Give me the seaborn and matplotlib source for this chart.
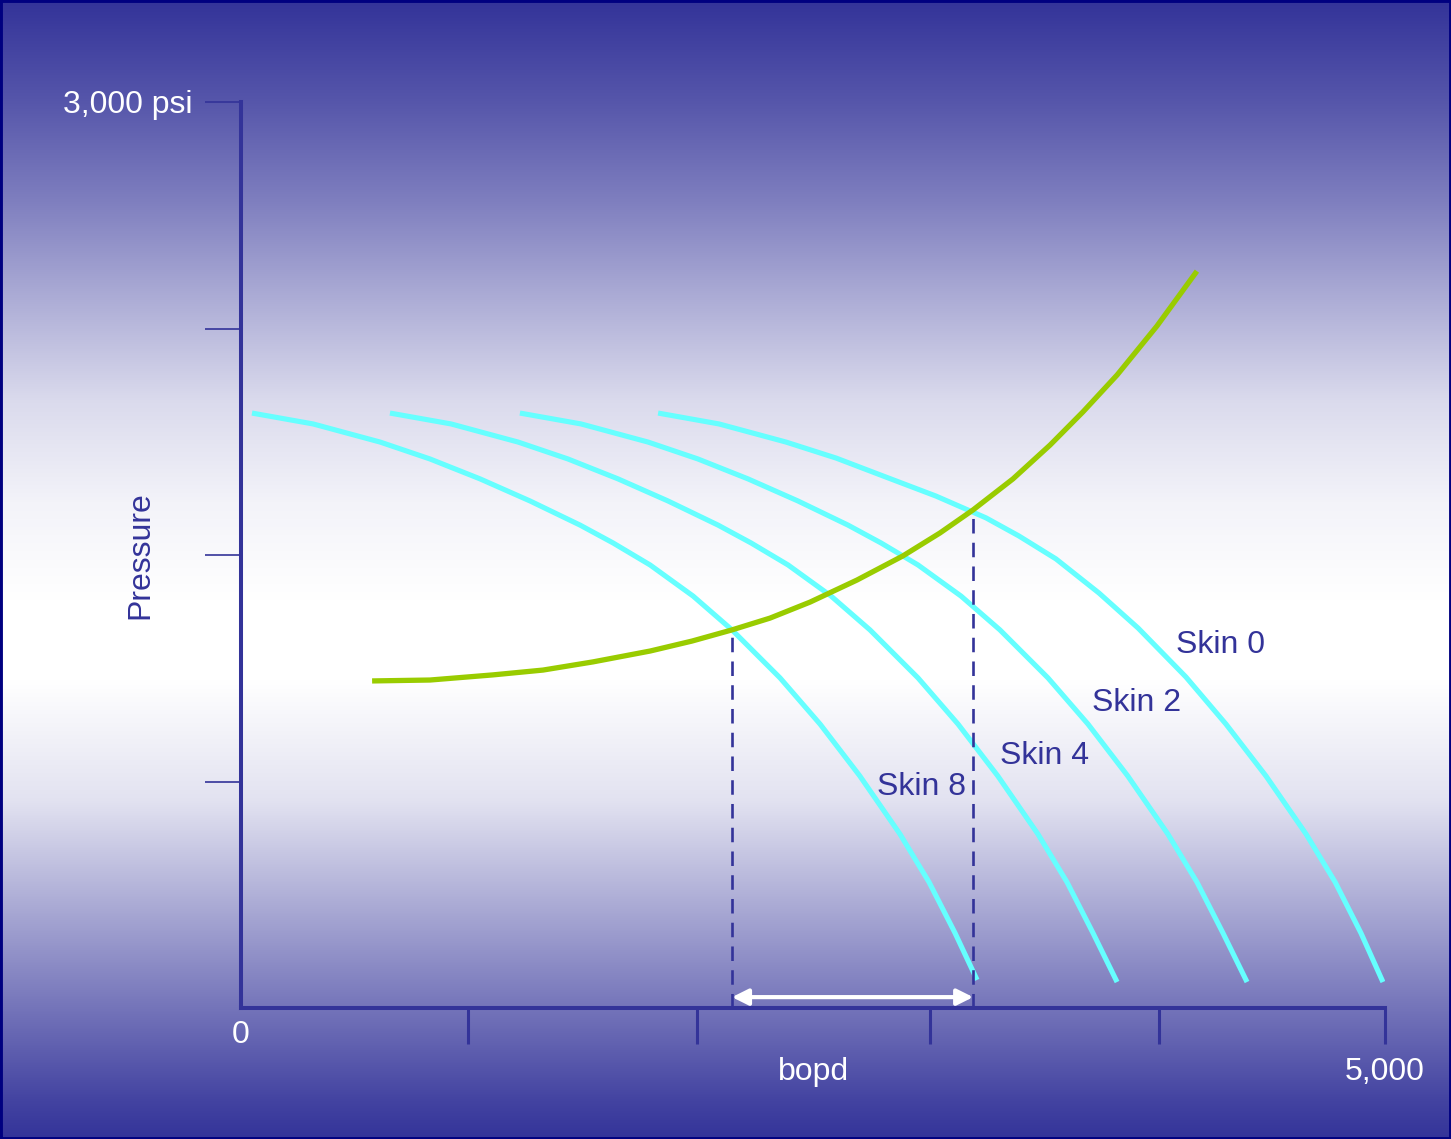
import numpy as np
import pandas as pd
import matplotlib
matplotlib.use("Agg")
import matplotlib.pyplot as plt
from matplotlib.patches import Rectangle
import seaborn as sns

# ---- data -------------------------------------------------------------
# inflow performance curves (bopd vs flowing pressure, psi)
skin0_rate = [1823, 2089, 2382, 2601, 2819, 3038, 3256, 3400, 3562, 3750,
              3921, 4130, 4305, 4480, 4655, 4782, 4895, 4991]
skin0_psi = [1970, 1934, 1874, 1821, 1758, 1695, 1623, 1563, 1487, 1374,
             1258, 1096, 940, 768, 576, 417, 248, 86]

skin2_rate = [1219, 1486, 1779, 1997, 2216, 2434, 2653, 2797, 2959, 3147,
              3317, 3527, 3702, 3876, 4051, 4178, 4292, 4397]
skin2_psi = [1970, 1934, 1874, 1818, 1752, 1679, 1599, 1540, 1467, 1364,
             1252, 1093, 940, 768, 576, 417, 248, 86]

skin4_rate = [651, 918, 1211, 1429, 1648, 1866, 2085, 2229, 2391, 2579,
              2749, 2959, 3134, 3308, 3483, 3610, 3724, 3829]
skin4_psi = [1970, 1934, 1874, 1818, 1752, 1679, 1599, 1540, 1467, 1364,
             1252, 1093, 940, 768, 576, 417, 248, 86]

skin8_rate = [48, 315, 608, 826, 1045, 1263, 1482, 1626, 1788, 1976,
              2146, 2356, 2531, 2705, 2880, 3007, 3121, 3217]
skin8_psi = [1970, 1934, 1874, 1818, 1752, 1679, 1599, 1540, 1467, 1364,
             1252, 1093, 940, 768, 576, 417, 248, 93]

# tubing (outflow) curve
tubing_rate = [573, 826, 1101, 1320, 1538, 1788, 1971, 2146, 2312, 2487,
               2692, 2893, 3055, 3199, 3374, 3536, 3680, 3829, 4003, 4178]
tubing_psi = [1083, 1086, 1103, 1119, 1146, 1182, 1215, 1252, 1291, 1344,
              1417, 1497, 1573, 1649, 1752, 1864, 1974, 2096, 2258, 2440]

# operating points (Skin 8 and Skin 0 with the tubing curve)
op_rate = [2146, 3200]
op_psi = [1252, 1646]

skin_labels = ["Skin 0", "Skin 2", "Skin 4", "Skin 8"]
label_rate = [4279, 3916, 3510, 2976]
label_psi = [1202, 1010, 834, 732]

x_ticks = [992, 1993, 3011, 4012, 5000]
y_ticks = [750, 1500, 2250, 3000]

# ---- styling ----------------------------------------------------------
NAVY = "#333399"
CYAN = "#66FFFF"
GREEN = "#99CC00"

plt.rcParams["font.family"] = ["Liberation Sans", "DejaVu Sans"]

W, H = 1451, 1139
fig = plt.figure(figsize=(W / 100, H / 100), dpi=100)

# vertical background gradient: blue at top/bottom, white band in the middle
top = np.array([51, 51, 153]) / 255.0
white = np.ones(3)
rows = np.arange(H)
stop_y = [0, 100, 200, 300, 400, 500, 600, 680, 800, 900, 1000, 1100, H]
stop_f = [0.0, 0.17, 0.37, 0.60, 0.82, 0.94, 1.0, 1.0, 0.86, 0.60, 0.34, 0.08, 0.0]
frac = np.interp(rows, stop_y, stop_f)
grad = top[None, :] * (1 - frac[:, None]) + white[None, :] * frac[:, None]
grad = np.repeat(grad[:, None, :], 2, axis=1)

bg = fig.add_axes([0, 0, 1, 1], zorder=0)
bg.imshow(grad, aspect="auto", extent=[0, 1, 0, 1], origin="upper",
          interpolation="bilinear")
bg.axis("off")
bg.add_patch(Rectangle((0, 0), 1, 1, transform=bg.transAxes, fill=False,
                       edgecolor="#000080", linewidth=3.5, clip_on=False))

# main axes placed so that 0..5000 bopd and 0..3000 psi fill the plot frame
x0, x1 = 241 / W, 1385 / W
y0, y1 = 1 - 1008 / H, 1 - 102 / H
ax = fig.add_axes([x0, y0, x1 - x0, y1 - y0], zorder=1)
ax.patch.set_alpha(0)

# ---- curves -----------------------------------------------------------
frames = []
for name, r, p in zip(skin_labels,
                      [skin0_rate, skin2_rate, skin4_rate, skin8_rate],
                      [skin0_psi, skin2_psi, skin4_psi, skin8_psi]):
    frames.append(pd.DataFrame({"rate": r, "psi": p, "curve": name}))
ipr = pd.concat(frames, ignore_index=True)

sns.lineplot(data=ipr, x="rate", y="psi", hue="curve", units="curve",
             estimator=None, sort=False, palette={k: CYAN for k in skin_labels},
             legend=False, linewidth=3.7, ax=ax, solid_capstyle="butt",
             solid_joinstyle="round")

tub = pd.DataFrame({"rate": tubing_rate, "psi": tubing_psi})
sns.lineplot(data=tub, x="rate", y="psi", estimator=None, sort=False,
             color=GREEN, linewidth=3.8, ax=ax, solid_capstyle="butt",
             solid_joinstyle="round")

# dashed drop lines from the operating points
for r, p in zip(op_rate, op_psi):
    ax.plot([r, r], [0, p], color=NAVY, linewidth=1.9, dashes=(5.5, 3.5), zorder=3)

# production gain arrow
ax.annotate("", xy=(op_rate[1], 36), xytext=(op_rate[0], 36),
            arrowprops=dict(arrowstyle="<|-|>", color="white", lw=3.0,
                            mutation_scale=24, shrinkA=0, shrinkB=0),
            zorder=4)

# ---- axes -------------------------------------------------------------
ax.set_xlim(0, 5000)
ax.set_ylim(0, 3000)
for side in ("top", "right"):
    ax.spines[side].set_visible(False)
for side in ("left", "bottom"):
    ax.spines[side].set_color(NAVY)
    ax.spines[side].set_linewidth(2.9)
ax.set_xticks(x_ticks)
ax.set_yticks(y_ticks)
ax.tick_params(axis="x", direction="out", length=26, width=2.2, color=NAVY,
               labelbottom=False)
ax.tick_params(axis="y", direction="out", length=26, width=1.2, color=NAVY,
               labelleft=False)
ax.set_xlabel("")
ax.set_ylabel("")

# ---- text -------------------------------------------------------------
fs = 23
ax.text(-214, 2990, "3,000 psi", color="white", fontsize=fs, ha="right", va="center")
ax.text(-441, 1500, "Pressure", color=NAVY, fontsize=fs, ha="center", va="center",
        rotation=90)
ax.text(0, -89, "0", color="white", fontsize=fs, ha="center", va="center")
ax.text(2504, -212, "bopd", color="white", fontsize=fs, ha="center", va="center")
ax.text(5000, -212, "5,000", color="white", fontsize=fs, ha="center", va="center")
for name, r, p in zip(skin_labels, label_rate, label_psi):
    ax.text(r, p, name, color=NAVY, fontsize=fs, ha="center", va="center")

fig.savefig("out.png", dpi=100)
